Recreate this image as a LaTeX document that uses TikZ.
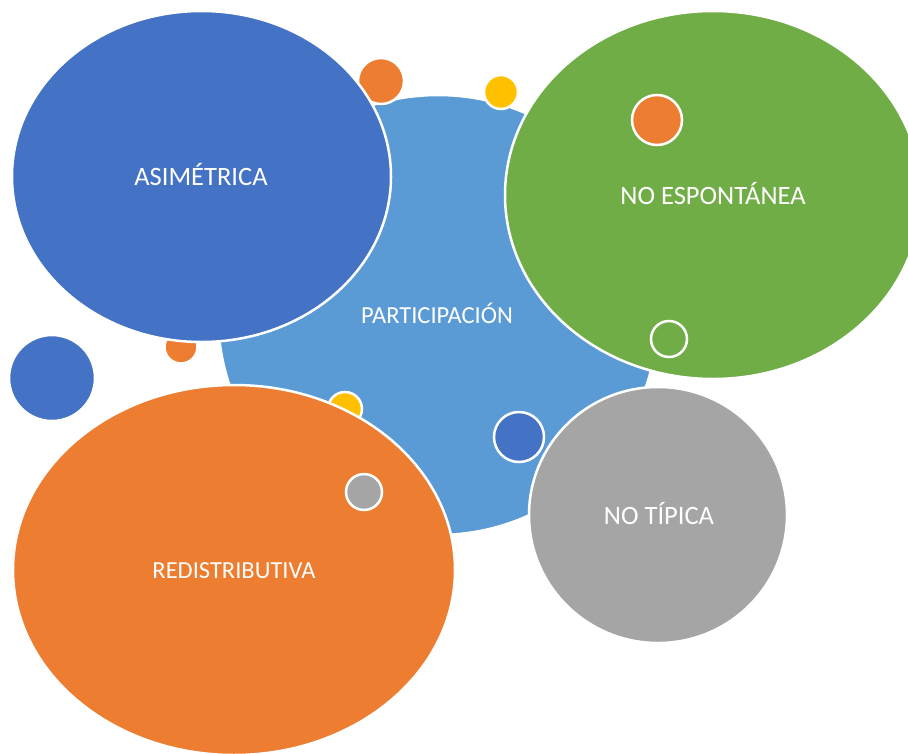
\documentclass[tikz,border=0pt]{standalone}
\usepackage{fontspec}
\setmainfont{Carlito}
\usetikzlibrary{shapes.geometric}
\definecolor{cLightBlue}{HTML}{5B9BD5}
\definecolor{cDarkBlue}{HTML}{4472C4}
\definecolor{cGreen}{HTML}{70AD47}
\definecolor{cOrange}{HTML}{ED7D31}
\definecolor{cGray}{HTML}{A5A5A5}
\definecolor{cYellow}{HTML}{FFC000}
\tikzset{
  bub/.style={ellipse, draw=white, line width=2.5pt, inner sep=0pt, outer sep=0pt},
  lbl/.style={text=white, inner sep=0pt, font=\fontsize{26.5}{30}\selectfont},
  lblsm/.style={text=white, inner sep=0pt, font=\fontsize{24.5}{28}\selectfont},
}
\begin{document}
\begin{tikzpicture}[x=1pt,y=-1pt]
\useasboundingbox (0,0) rectangle (908,753);
\clip (0,0) rectangle (908,753);
% central bubble
\node[bub, fill=cLightBlue, minimum width=440pt, minimum height=440pt] (part) at (438,315) {};
% small bubbles behind the large ones
\node[bub, fill=cOrange, minimum size=46pt] (s1) at (381,81) {};
\node[bub, fill=cYellow, minimum size=34pt] (s2) at (501,92) {};
\node[bub, fill=cOrange, minimum size=33pt] (s3) at (181,347) {};
\node[bub, fill=cYellow, minimum size=34pt] (s4) at (345,409) {};
\node[bub, fill=cDarkBlue, minimum size=86pt] (s5) at (52,378) {};
\node[bub, fill=cDarkBlue, minimum size=50pt] (s6) at (519,437) {};
% large bubbles
\node[bub, fill=cDarkBlue, minimum width=379pt, minimum height=331pt] (asim) at (201.5,176.5) {};
\node[bub, fill=cGreen, minimum width=416pt, minimum height=368pt] (noesp) at (713,195) {};
\node[bub, fill=cGray, minimum width=258pt, minimum height=256pt] (notip) at (658,515) {};
\node[bub, fill=cOrange, minimum width=442pt, minimum height=370pt] (redis) at (234,570) {};
% small bubbles on top
\node[bub, fill=cOrange, minimum size=50pt] (s7) at (657,120) {};
\node[bub, fill=cGreen, minimum size=36pt] (s8) at (669,339) {};
\node[bub, fill=cGray, minimum size=36pt] (s9) at (364,492) {};
% labels
\node[lbl] (tasim) at (201,175) {ASIMÉTRICA};
\node[lbl] (tnoesp) at (713,194) {NO ESPONTÁNEA};
\node[lblsm] (tpart) at (437,313) {PARTICIPACIÓN};
\node[lbl] (tnotip) at (659,514) {NO TÍPICA};
\node[lblsm] (tredis) at (234,571) {REDISTRIBUTIVA};
\end{tikzpicture}
\end{document}
